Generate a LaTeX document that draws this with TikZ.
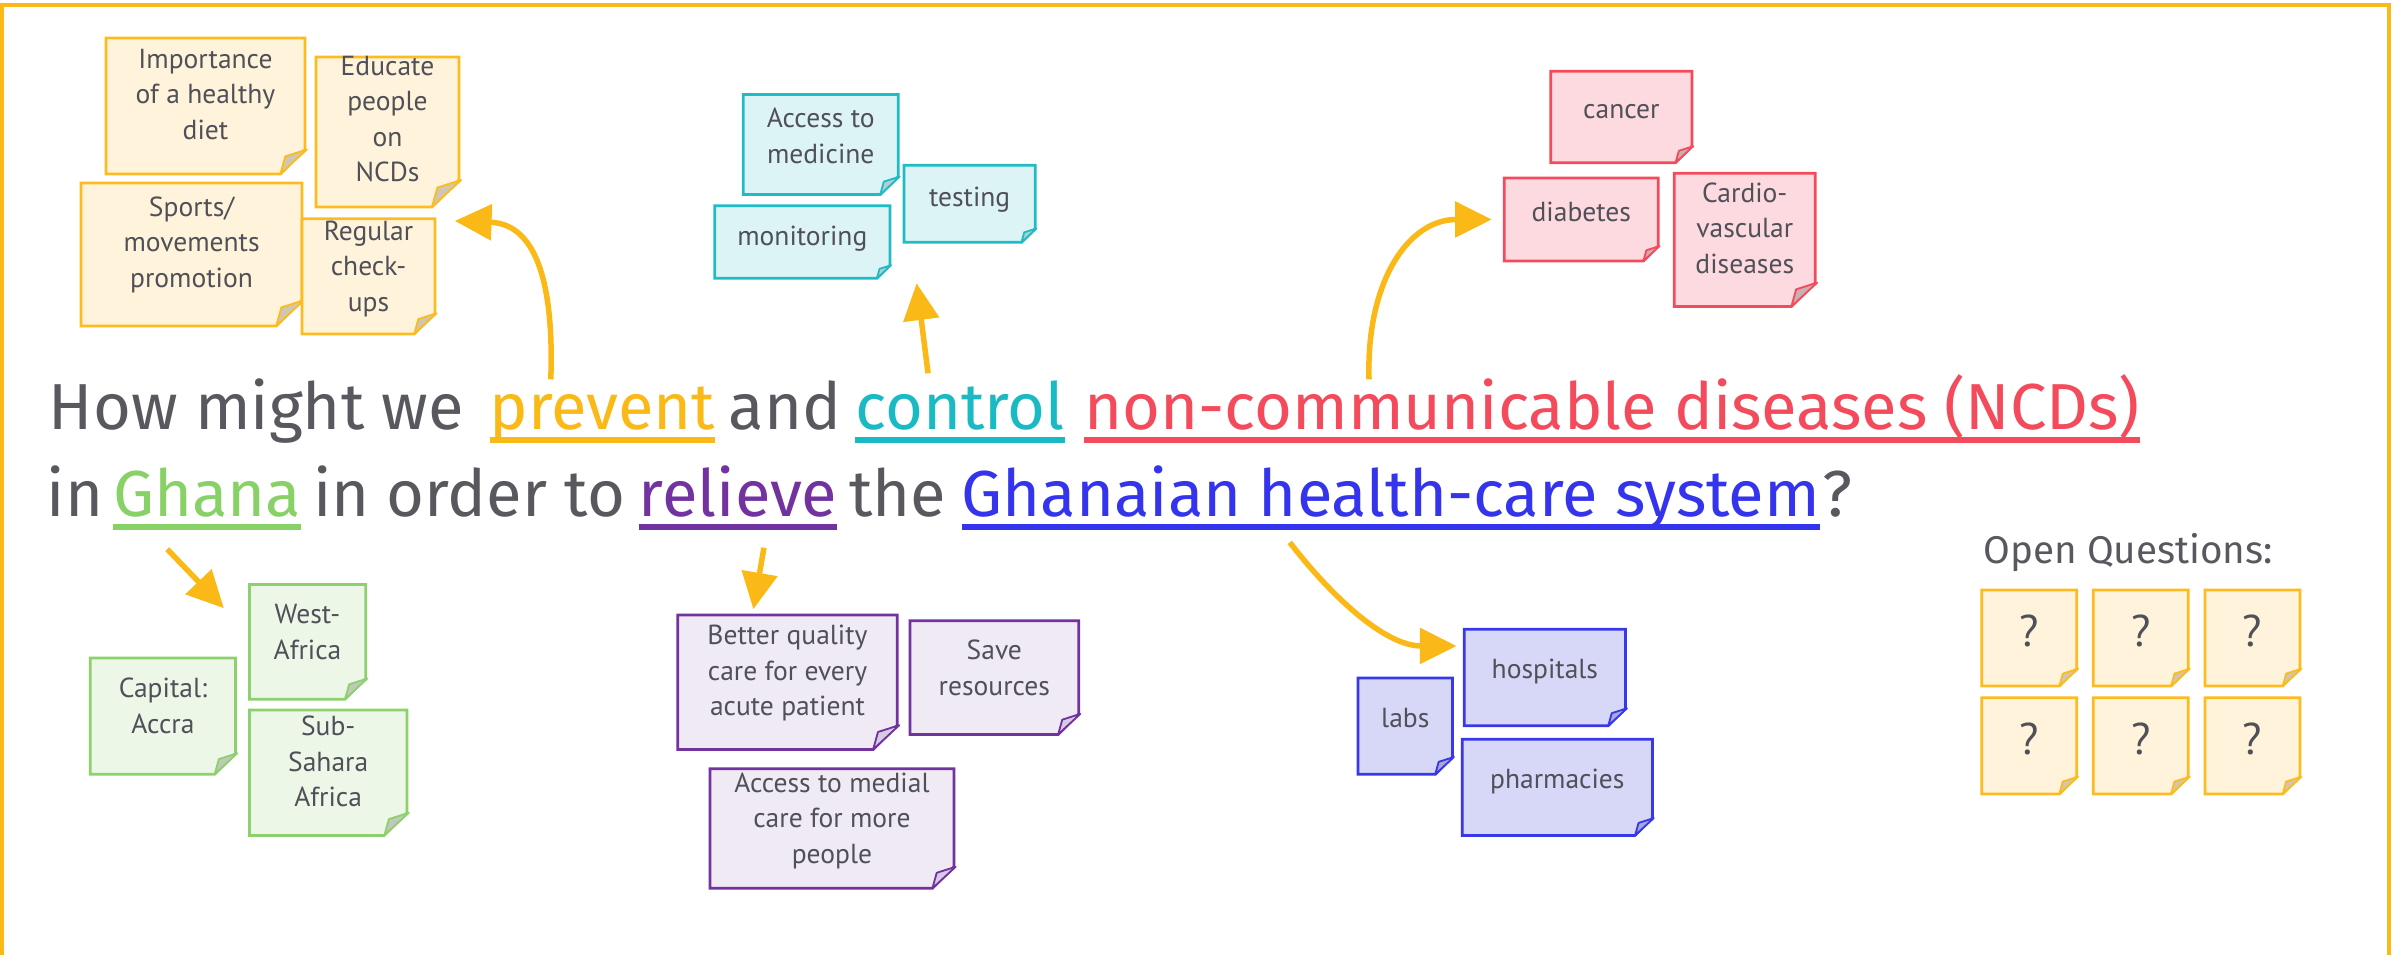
\documentclass[tikz,border=0pt]{standalone}
\usepackage{fontspec}
\usetikzlibrary{arrows.meta,calc}
\newfontfamily\titlefont{Fira Sans}
\newfontfamily\notefont{PT Sans}
\definecolor{frameC}{HTML}{FBB917}
\definecolor{arrowC}{HTML}{FBB917}
\definecolor{titleC}{HTML}{58585E}
\definecolor{noteC}{HTML}{4F5058}
\definecolor{cprev}{HTML}{FBB917}
\definecolor{cctrl}{HTML}{1ABAC4}
\definecolor{cncd}{HTML}{F34B5B}
\definecolor{cgh}{HTML}{88D166}
\definecolor{crel}{HTML}{7232A0}
\definecolor{cblu}{HTML}{3434EC}
\definecolor{yelL}{HTML}{FCBB1E}\definecolor{yelF}{HTML}{FFF4DB}\definecolor{yelP}{HTML}{CFC7B2}
\definecolor{tealL}{HTML}{1FBCC6}\definecolor{tealF}{HTML}{DDF4F6}\definecolor{tealP}{HTML}{B5CFD1}
\definecolor{redL}{HTML}{F34B5B}\definecolor{redF}{HTML}{FCDADF}\definecolor{redP}{HTML}{C9AEB2}
\definecolor{grnL}{HTML}{8DD16D}\definecolor{grnF}{HTML}{ECF7E7}\definecolor{grnP}{HTML}{C2C8BD}
\definecolor{purL}{HTML}{7232A0}\definecolor{purF}{HTML}{EFEAF4}\definecolor{purP}{HTML}{D8CCE5}
\definecolor{bluL}{HTML}{3838E8}\definecolor{bluF}{HTML}{D7D7F8}\definecolor{bluP}{HTML}{A8A8D8}
\newlength\mylen
\newcommand\ulw[2]{{\setbox0\hbox{#2}\rlap{\color{#1}\rule[-8.5pt]{\wd0}{3.7pt}}\textcolor{#1}{\box0}}}
\newcommand\ns{\rule[-5pt]{0pt}{23pt}}
\AtBeginDocument{%
  \settowidth\mylen{\titlefont\fontsize{40pt}{40pt}\selectfont non-communicable diseases (NCDs)}%
  \pgfmathsetmacro\tsize{690.1/\mylen*40}%
  \global\let\tsize\tsize
  \settowidth\mylen{\titlefont\fontsize{20pt}{20pt}\selectfont Open Questions:}%
  \pgfmathsetmacro\osize{189.1/\mylen*20}%
  \global\let\osize\osize
}
\tikzset{
  notebase/.style={inner sep=0pt, outer sep=0pt, rectangle},
  noteline/.style={line width=1.8pt, line join=miter},
  flapline/.style={line width=1.2pt, line join=round},
  notetext/.style={inner sep=0pt, align=center, text=noteC, font=\notefont\fontsize{18pt}{23.2pt}\selectfont},
  title/.style={inner sep=0pt, outer sep=0pt, anchor=base west, text=titleC, font=\titlefont\fontsize{\tsize pt}{\tsize pt}\selectfont},
  arr/.style={draw=arrowC, line width=3.6pt, -{Triangle[length=24pt,width=23pt]}},
}
% #1 text options, #2 name, #3 palette, #4 x1, #5 y1, #6 x2, #7 y2, #8 text
\newcommand\sticky[8][]{%
  \node[notebase, minimum width={#6-#4}, minimum height={#7-#5}] (#2) at ({(#4+#6)/2},{(#5+#7)/2}) {};
  \pgfmathsetmacro\fc{0.18*(#7-#5)}%
  \pgfmathsetmacro\ty{0.09*(#7-#5)}%
  \draw[noteline, draw=#3L, fill=#3F] (#2.north west) -- (#2.north east) -- ([yshift=\fc pt]#2.south east) -- ([xshift=-\fc pt]#2.south east) -- (#2.south west) -- cycle;
  \draw[flapline, draw=#3L, fill=#3P] ([xshift=-\fc pt]#2.south east) -- ([xshift=0.08*\fc pt, yshift=\fc pt]#2.south east) -- ([xshift=-0.8*\fc pt, yshift=0.72*\fc pt]#2.south east) -- cycle;
  \node[notetext, #1] (#2-t) at ([yshift=\ty pt]#2.center) {\ns #8\ns};
}
\begin{document}
\begin{tikzpicture}[x=1pt, y=-1pt]
\useasboundingbox (0,0) rectangle (1568,624);
% frame
\draw[draw=frameC, line width=2.3pt, line join=miter] (1.3,630) -- (1.3,3.3) -- (1561.5,3.3) -- (1561.5,630);

% yellow notes (prevent)
\sticky{imp}{yel}{69.3}{24.8}{199.3}{113.7}{Importance\\of a healthy\\diet}
\sticky{edu}{yel}{206.5}{37.3}{300}{135.3}{Educate\\people\\on\\NCDs}
\sticky{spo}{yel}{53}{119.6}{197.4}{213}{Sports/\\movements\\promotion}
\sticky{reg}{yel}{197.4}{143}{284.3}{218.3}{Regular\\check-\\ups}
% teal notes (control)
\sticky{acc}{teal}{485.8}{61.7}{587.1}{127.2}{Access to\\medicine}
\sticky{tst}{teal}{590.8}{108}{676.7}{158.4}{testing}
\sticky{mon}{teal}{467.1}{134.4}{581.7}{181.9}{monitoring}
% red notes (NCDs)
\sticky{can}{red}{1013.5}{46.6}{1105.9}{106.3}{cancer}
\sticky{dia}{red}{983.2}{116.3}{1083.9}{170.6}{diabetes}
\sticky{car}{red}{1094.3}{113.3}{1186.5}{200.4}{Cardio-\\vascular\\diseases}
% green notes (Ghana)
\sticky{wes}{grn}{163}{382}{239}{457}{West-\\Africa}
\sticky{cap}{grn}{59}{430}{154}{506}{Capital:\\Accra}
\sticky{sub}{grn}{163}{464}{266}{546}{Sub-\\Sahara\\Africa}
% purple notes (relieve)
\sticky{bet}{pur}{442.9}{402}{586.5}{489.8}{Better quality\\care for every\\acute patient}
\sticky{sav}{pur}{594.8}{405.7}{705}{480}{Save\\resources}
\sticky{amc}{pur}{464}{502.4}{623.5}{580.6}{Access to medial\\care for more\\people}
% blue notes (health-care system)
\sticky{hos}{blu}{957}{411.3}{1062.5}{474.3}{hospitals}
\sticky{lab}{blu}{887.6}{443.1}{949.4}{506.1}{labs}
\sticky{pha}{blu}{955.8}{483.2}{1080}{546}{pharmacies}
% open questions
\node[inner sep=0pt, anchor=base west, text=titleC, font=\titlefont\fontsize{\osize pt}{\osize pt}\selectfont] (oq) at (1296.3,368.2) {Open Questions:};
\sticky[font=\notefont\fontsize{29pt}{29pt}\selectfont, yshift=-3.5pt]{q1}{yel}{1295.2}{385.6}{1357.3}{448.4}{?}
\sticky[font=\notefont\fontsize{29pt}{29pt}\selectfont, yshift=-3.5pt]{q2}{yel}{1368.2}{385.6}{1430.3}{448.4}{?}
\sticky[font=\notefont\fontsize{29pt}{29pt}\selectfont, yshift=-3.5pt]{q3}{yel}{1441.2}{385.6}{1503.3}{448.4}{?}
\sticky[font=\notefont\fontsize{29pt}{29pt}\selectfont, yshift=-3.5pt]{q4}{yel}{1295.2}{456}{1357.3}{519}{?}
\sticky[font=\notefont\fontsize{29pt}{29pt}\selectfont, yshift=-3.5pt]{q5}{yel}{1368.2}{456}{1430.3}{519}{?}
\sticky[font=\notefont\fontsize{29pt}{29pt}\selectfont, yshift=-3.5pt]{q6}{yel}{1441.2}{456}{1503.3}{519}{?}

% title line 1
\node[title] (l1a) at (32,281) {How might we};
\node[title] (prevent) at (320,281) {\ulw{cprev}{prevent}};
\node[title, anchor=base] (l1b) at (513,281) {and};
\node[title] (control) at (559,281) {\ulw{cctrl}{control}};
\node[title] (ncd) at (708.6,281) {\ulw{cncd}{non-communicable diseases (NCDs)}};
% title line 2
\node[title] (l2a) at (30.5,337.7) {in};
\node[title] (ghana) at (74,337.7) {\ulw{cgh}{Ghana}};
\node[title, anchor=base] (l2b) at (306.6,337.7) {in order to};
\node[title] (relieve) at (417.6,337.7) {\ulw{crel}{relieve}};
\node[title, anchor=base] (l2c) at (586.8,337.7) {the};
\node[title] (hcs) at (628.6,337.7) {\ulw{cblu}{Ghanaian health-care system}};
\node[title] (l2d) at ([xshift=1.5pt]hcs.base east) {?};

% arrows
\draw[arr] ([shift={(40,-33)}]prevent.base west) .. controls +(2,-58) and +(55,2) .. ([shift={(13,1.4)}]reg.north east);
\draw[arr] ([shift={(47.6,-37)}]control.base west) -- ([shift={(8.3,26.8)}]tst.south west);
\draw[arr] ([shift={(186.2,-33)}]ncd.base west) .. controls +(-2,-63) and +(-55,0) .. ([xshift=-8.2pt]dia.west);
\draw[arr] ([shift={(35.3,21.2)}]ghana.base west) -- ([shift={(-16.7,15.5)}]wes.north west);
\draw[arr] ([shift={(81.7,20.3)}]relieve.base west) -- ([shift={(49.5,-3.8)}]bet.north west);
\draw[arr] ([shift={(214.4,16.8)}]hcs.base west) .. controls +(27,35) and +(-47,0) .. ([shift={(-5,10.9)}]hos.north west);
\end{tikzpicture}
\end{document}
